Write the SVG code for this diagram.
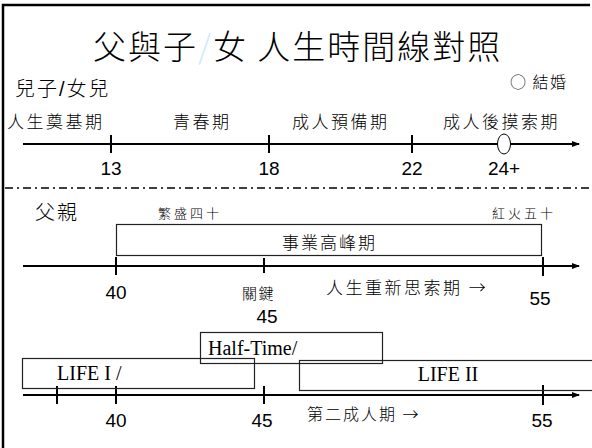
<svg xmlns="http://www.w3.org/2000/svg" width="592" height="448" viewBox="0 0 592 448">
<defs>
<marker id="arr" markerWidth="8" markerHeight="6" refX="7" refY="3" orient="auto" markerUnits="userSpaceOnUse">
<path d="M0,0 L8,3 L0,6 Z" fill="#000"/>
</marker>
<style>
.cjk{font-family:"Noto Sans CJK TC","Noto Sans CJK SC",sans-serif;fill:#000;font-weight:300}
.num{font-family:"Liberation Sans",Arial,sans-serif;font-size:19px;fill:#000;text-anchor:middle}
.ser{font-family:"Liberation Serif","Times New Roman",serif;font-size:20px;fill:#000}
.axis{stroke:#000;stroke-width:2;fill:none}
.tick{stroke:#000;stroke-width:2}
.box{fill:none;stroke:#222;stroke-width:1.2}
</style>
</defs>
<rect x="0" y="0" width="592" height="448" fill="#fff"/>
<path d="M3,448 V5 H590" fill="none" stroke="#000" stroke-width="2.5"/>

<g id="title">
<text x="93" y="59" class="cjk" font-size="33" letter-spacing="2">父與子<tspan fill="#cfe9f7">/</tspan>女 人生時間線對照</text>
</g>

<g id="son-daughter">
<text x="15" y="96" class="cjk" font-size="20" letter-spacing="2">兒子<tspan font-family="Liberation Sans">/</tspan>女兒</text>
<text x="510" y="88" class="cjk" font-size="16" letter-spacing="1.5">○ 結婚</text>
<text x="7" y="128" class="cjk" font-size="17" letter-spacing="2.5">人生奠基期</text>
<text x="173" y="128" class="cjk" font-size="17" letter-spacing="2.5">青春期</text>
<text x="292" y="128" class="cjk" font-size="17" letter-spacing="2.5">成人預備期</text>
<text x="443" y="128" class="cjk" font-size="17" letter-spacing="2.5">成人後摸索期</text>
</g>

<g id="connectors">
<line x1="23" y1="144" x2="579" y2="144" class="axis" marker-end="url(#arr)"/>
<line x1="111" y1="135" x2="111" y2="153" class="tick"/>
<line x1="269" y1="135" x2="269" y2="153" class="tick"/>
<line x1="412" y1="135" x2="412" y2="153" class="tick"/>
<line x1="5" y1="188" x2="592" y2="188" stroke="#000" stroke-width="1.5" stroke-dasharray="8,4,2,4"/>
<line x1="23" y1="266" x2="579" y2="266" class="axis" marker-end="url(#arr)"/>
<line x1="116" y1="257" x2="116" y2="275" class="tick"/>
<line x1="264" y1="258" x2="264" y2="273" class="tick"/>
<line x1="543" y1="257" x2="543" y2="276" class="tick"/>
<line x1="23" y1="395" x2="579" y2="395" class="axis" marker-end="url(#arr)"/>
<line x1="57" y1="386" x2="57" y2="404" class="tick"/>
<line x1="116" y1="386" x2="116" y2="404" class="tick"/>
<line x1="264" y1="386" x2="264" y2="404" class="tick"/>
<line x1="543" y1="385" x2="543" y2="405" class="tick"/>
</g>

<g id="marriage">
<ellipse cx="504" cy="144" rx="6.5" ry="10" fill="#fff" stroke="#000" stroke-width="1"/>
</g>

<g id="son-ages">
<text x="111" y="175" class="num">13</text>
<text x="269" y="175" class="num">18</text>
<text x="412" y="175" class="num">22</text>
<text x="504" y="175" class="num">24+</text>
</g>

<g id="father">
<text x="35" y="220" class="cjk" font-size="20" letter-spacing="2">父親</text>
<text x="158" y="218" class="cjk" font-size="13" letter-spacing="3">繁盛四十</text>
<text x="492" y="218" class="cjk" font-size="13" letter-spacing="3">紅火五十</text>
</g>

<g id="career-peak">
<rect x="116.5" y="224.5" width="425" height="31" class="box"/>
<text x="282" y="249" class="cjk" font-size="17" letter-spacing="2">事業高峰期</text>
</g>

<g id="father-ages">
<text x="116" y="299" class="num">40</text>
<text x="242" y="299" class="cjk" font-size="15" letter-spacing="1.5">關鍵</text>
<text x="326" y="294" class="cjk" font-size="17" letter-spacing="2.5">人生重新思索期 →</text>
<text x="540" y="305" class="num">55</text>
<text x="267" y="323" class="num">45</text>
</g>

<g id="half-time">
<rect x="200.5" y="332.5" width="182" height="31" class="box"/>
<text x="208" y="355" class="ser">Half-Time/</text>
</g>

<g id="life1">
<rect x="22.5" y="358.5" width="232" height="30" class="box"/>
<text x="57" y="380" class="ser">LIFE I /</text>
</g>

<g id="life2">
<rect x="299.5" y="360.5" width="300" height="30" class="box"/>
<text x="448" y="381" class="ser" text-anchor="middle">LIFE II</text>
</g>

<g id="second-ages">
<text x="116" y="427" class="num">40</text>
<text x="262" y="427" class="num">45</text>
<text x="307" y="420" class="cjk" font-size="16" letter-spacing="2">第二成人期 →</text>
<text x="542" y="427" class="num">55</text>
</g>
</svg>
